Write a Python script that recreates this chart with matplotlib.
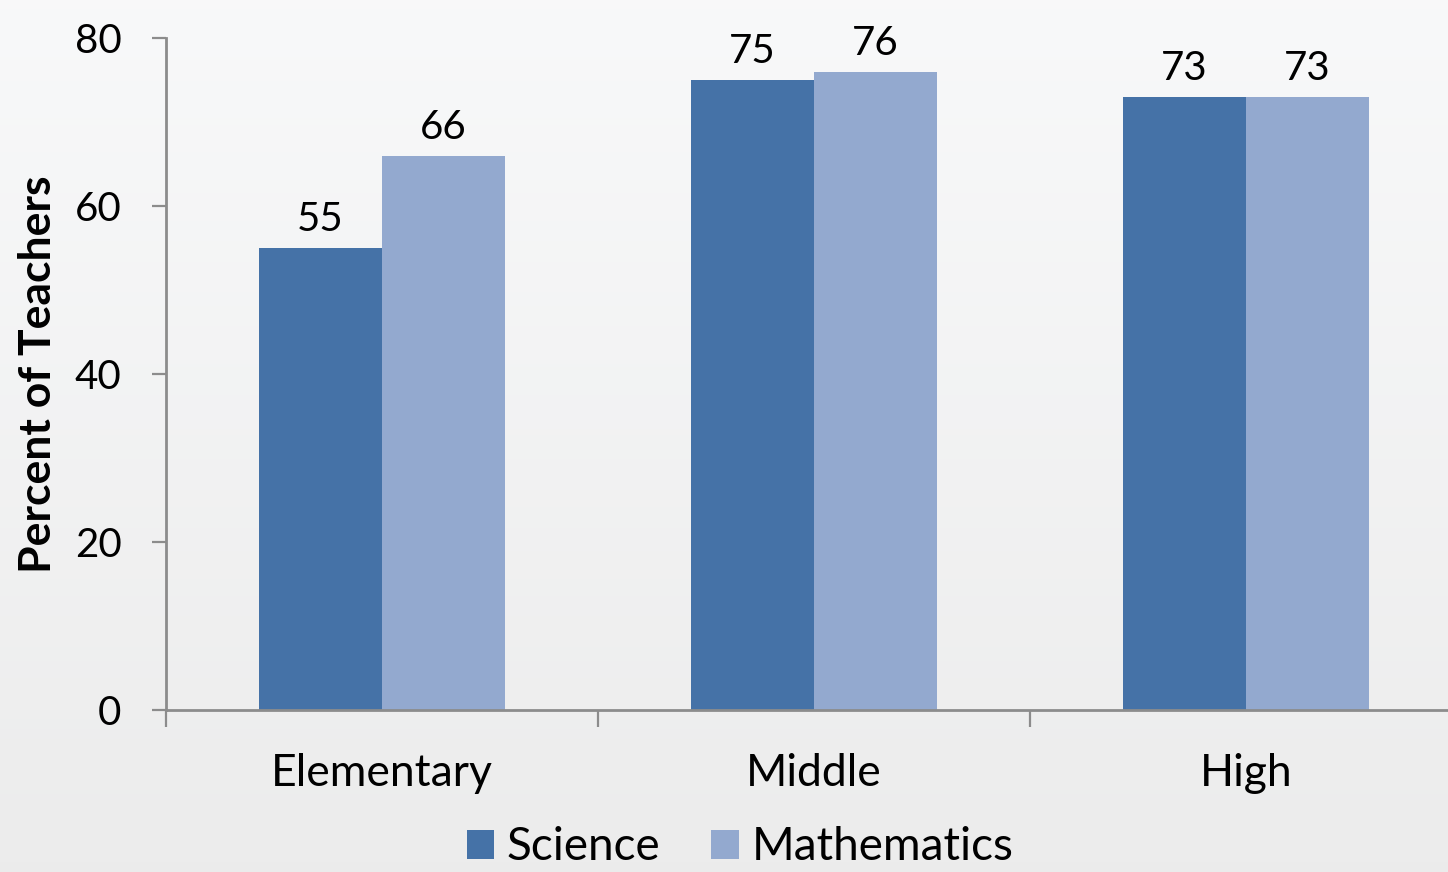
#! /usr/bin/env python3

import numpy as np
import matplotlib
matplotlib.use("Agg")
import matplotlib.pyplot as plt


# Percent of teachers by grade level, science vs. mathematics.
levels = ["Elementary", "Middle", "High"]
science = [55, 75, 73]
mathematics = [66, 76, 73]

plt.rcParams['font.family'] = ['Lato', 'DejaVu Sans']

fig = plt.figure(figsize=(14.48, 8.72), dpi=100)

# Soft vertical gradient behind everything.
bg = fig.add_axes([0, 0, 1, 1], zorder=-1)
grad = np.linspace(0, 1, 256).reshape(-1, 1)
top = np.array([0.973, 0.976, 0.980])
bot = np.array([0.925, 0.925, 0.925])
img = top + (bot - top) * grad[:, :, None]
bg.imshow(img, aspect='auto', extent=[0, 1, 0, 1])
bg.axis('off')

ax = fig.add_axes([166 / 1448, 162 / 872, 1296 / 1448, 672 / 872])
ax.patch.set_alpha(0)

x = np.arange(len(levels))
w = 0.285
b1 = ax.bar(x - w / 2, science, w, color='#4572a7', label='Science')
b2 = ax.bar(x + w / 2, mathematics, w, color='#93a9cf', label='Mathematics')

for bars in (b1, b2):
    for bar in bars:
        ax.annotate(f"{bar.get_height():.0f}",
                    (bar.get_x() + bar.get_width() / 2, bar.get_height()),
                    xytext=(0, 7), textcoords='offset points',
                    ha='center', va='bottom', fontsize=29)

ax.set_xlim(-0.5, 2.5)
ax.set_ylim(0, 80)
ax.set_yticks([0, 20, 40, 60, 80])
ax.tick_params(axis='y', labelsize=29, length=10, width=1.6, color='#8c8c8c', pad=22)
ax.set_xticks(x)
ax.set_xticklabels(levels, fontsize=32)
ax.tick_params(axis='x', length=0, pad=31)
ax.set_xticks([-0.5, 0.5, 1.5, 2.5], minor=True)
ax.tick_params(axis='x', which='minor', length=12, width=1.6, color='#8c8c8c')

for s in ('top', 'right'):
    ax.spines[s].set_visible(False)
for s in ('left', 'bottom'):
    ax.spines[s].set_color('#8c8c8c')
    ax.spines[s].set_linewidth(2)

ax.set_ylabel("Percent of Teachers", fontsize=32, fontweight='bold', labelpad=12)

fig.legend(loc='lower center', bbox_to_anchor=(0.511, -0.043), ncol=2, frameon=False,
           fontsize=33, handlelength=0.6, handleheight=0.6, handletextpad=0.28,
           columnspacing=1.1)

fig.savefig("out.png", dpi=100)
